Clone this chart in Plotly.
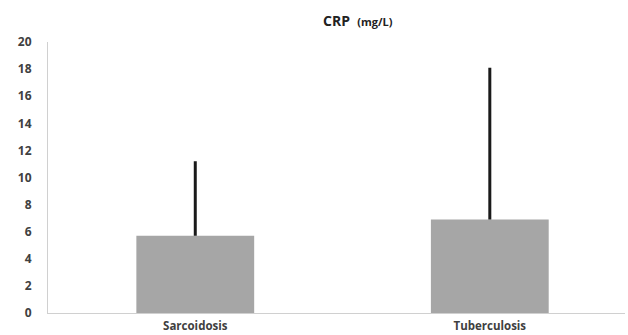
import plotly.graph_objects as go

categories = ["Sarcoidosis", "Tuberculosis"]
means = [5.7, 6.9]
sd_upper = [5.5, 11.2]
y_ticks = [0, 2, 4, 6, 8, 10, 12, 14, 16, 18, 20]

fig = go.Figure(go.Bar(
    x=categories, y=means,
    marker=dict(color="#a6a6a6", line=dict(width=0)),
    error_y=dict(type="data", symmetric=False, array=sd_upper,
                 arrayminus=[0] * len(means), color="#1a1a1a",
                 thickness=3, width=0),
))

font_fam = "Open Sans, Arial, sans-serif"
L, R = 48, 625
fig.update_layout(
    width=628, height=335,
    margin=dict(l=L, r=628 - R, t=42, b=22, autoexpand=False),
    plot_bgcolor="white", paper_bgcolor="white",
    bargap=0.6, showlegend=False,
    font=dict(family=font_fam, color="#404040"),
    xaxis=dict(range=[-0.5, 1.459], showline=True, linecolor="#d0d0d0", linewidth=1,
               automargin=False, ticks="outside", ticklen=2, tickcolor="rgba(0,0,0,0)",
               tickfont=dict(size=11.5, family=font_fam, weight="bold", color="#404040"),
               showgrid=False),
    yaxis=dict(range=[0, 20], tickvals=y_ticks, showline=True, automargin=False,
               linecolor="#d0d0d0", linewidth=1, showgrid=False, zeroline=False,
               ticks="outside", ticklen=13, tickcolor="rgba(0,0,0,0)",
               tickfont=dict(size=12, family=font_fam, weight="bold", color="#404040")),
    annotations=[dict(
        xref="paper", yref="paper", x=(358 - L) / (R - L), y=1.0,
        xanchor="center", yanchor="bottom", yshift=10, showarrow=False,
        text="<b>CRP</b>  <span style='font-size:11px'><b>(mg/L)</b></span>",
        font=dict(size=14, family=font_fam, color="#222222"),
    )],
)

fig.write_html("out.html", config={"displayModeBar": False},
               post_script="document.body.style.margin='0';document.body.style.padding='0';")
